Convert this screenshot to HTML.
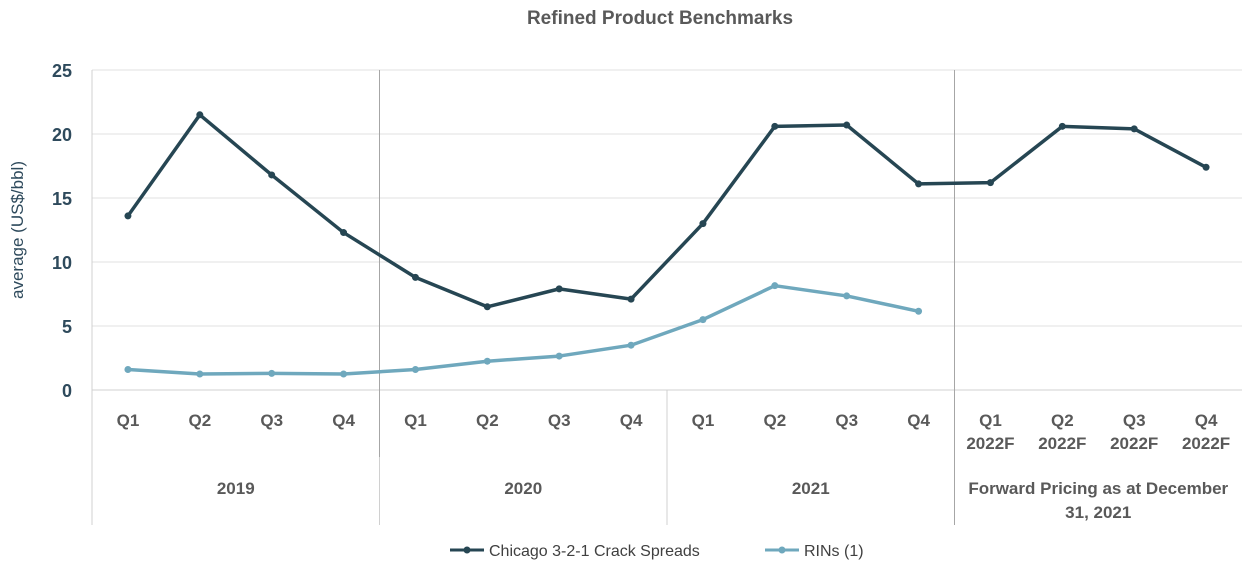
<!DOCTYPE html>
<html><head><meta charset="utf-8"><style>
body{margin:0;background:#fff;}
svg{display:block;font-family:"Liberation Sans",sans-serif;}
</style></head><body>
<svg id="c" width="1247" height="566">
<text x="660" y="24" text-anchor="middle" font-size="19" font-weight="bold" fill="#595959">Refined Product Benchmarks</text>
<text transform="translate(23,230) rotate(-90)" text-anchor="middle" font-size="17" fill="#2e4a5c">average (US$/bbl)</text>
<g id="grid"></g><g id="xa"></g><g id="series"></g>
<g>
<line x1="450" y1="550" x2="484" y2="550" stroke="#264653" stroke-width="3"/><circle cx="467" cy="550" r="3.5" fill="#264653"/>
<text x="489" y="556" font-size="16" fill="#404040">Chicago 3-2-1 Crack Spreads</text>
<line x1="765" y1="550" x2="799" y2="550" stroke="#6fa8bd" stroke-width="3"/><circle cx="782" cy="550" r="3.5" fill="#6fa8bd"/>
<text x="804" y="556" font-size="16" fill="#404040">RINs (1)</text>
</g>
</svg>
<script>
const categories=["Q1","Q2","Q3","Q4","Q1","Q2","Q3","Q4","Q1","Q2","Q3","Q4","Q1\n2022F","Q2\n2022F","Q3\n2022F","Q4\n2022F"];
const groups=["2019","2020","2021","Forward Pricing as at December\n31, 2021"];
const crack=[13.6,21.5,16.8,12.3,8.8,6.5,7.9,7.1,13.0,20.6,20.7,16.1,16.2,20.6,20.4,17.4];
const rins=[1.6,1.25,1.3,1.25,1.6,2.25,2.65,3.5,5.5,8.15,7.35,6.15];
const yTicks=[0,5,10,15,20,25];
const X0=92,X1=1242,Y0=390,Y1=70,YMAX=25;
const bw=(X1-X0)/categories.length;
const xs=i=>X0+bw*(i+0.5);
const ys=v=>Y0-(v/YMAX)*(Y0-Y1);
const NS="http://www.w3.org/2000/svg";
function mk(p,t,a){const e=document.createElementNS(NS,t);for(const k in a)e.setAttribute(k,a[k]);p.appendChild(e);return e;}
const g=document.getElementById('grid'),xa=document.getElementById('xa'),s=document.getElementById('series');
yTicks.forEach(v=>{
 const l=mk(g,'line',{x1:X0,x2:X1,y1:ys(v),y2:ys(v),stroke:v===0?'#d0d0d0':'#e0e0e0','stroke-width':1});
 
 
 const t=mk(g,'text',{x:72,y:ys(v)+7,'text-anchor':'end','font-size':18,'font-weight':'bold',fill:'#2e4a5c'});t.textContent=v;
 
 
});
mk(g,'line',{x1:X0,x2:X0,y1:Y1,y2:525,stroke:'#d0d0d0'});
[4,8,12].forEach((k,j)=>{const x=X0+bw*k;
 mk(g,'line',{x1:x,x2:x,y1:Y0,y2:525,stroke:'#d0d0d0'});
 if(j!==1) mk(g,'line',{x1:x,x2:x,y1:Y1,y2:j===0?457:525,stroke:'#a6a6a6'});
});
categories.forEach((c,i)=>{
 const t=mk(xa,'text',{x:xs(i),y:426,'text-anchor':'middle','font-size':17,'font-weight':'bold',fill:'#595959'});
 
 
 c.split('\n').forEach((ln,k)=>{const ts=mk(t,'tspan',{x:xs(i),dy:k?23:0});ts.textContent=ln;});
});
groups.forEach((gname,j)=>{
 const cx=X0+bw*(4*j+2);
 const t=mk(xa,'text',{x:cx,y:494,'text-anchor':'middle','font-size':17,'font-weight':'bold',fill:'#595959'});
 
 
 gname.split('\n').forEach((ln,k)=>{const ts=mk(t,'tspan',{x:cx,dy:k?24:0});ts.textContent=ln;});
});
function draw(arr,col,name){
 const p=mk(s,'polyline',{points:arr.map((v,i)=>xs(i)+','+ys(v)).join(' '),fill:'none',stroke:col,'stroke-width':3.5,'stroke-linejoin':'round'});
 
 
 arr.forEach((v,i)=>{const c=mk(s,'circle',{cx:xs(i),cy:ys(v),r:3.5,fill:col});
  
  });
}
draw(rins,'#6fa8bd','rins');
draw(crack,'#264653','crack-spread');
</script>
</body></html>
